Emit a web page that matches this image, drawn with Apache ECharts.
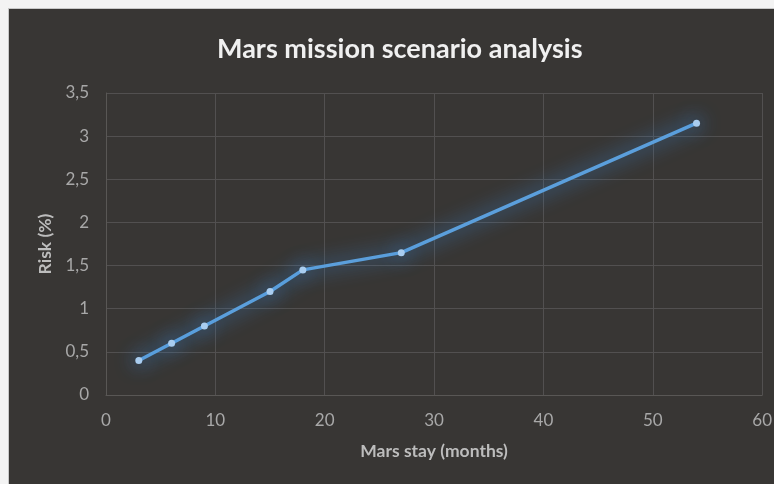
<!DOCTYPE html>
<html>
<head>
<meta charset="utf-8">
<script src="https://cdn.jsdelivr.net/npm/echarts@6/dist/echarts.min.js"></script>
<style>
  html, body { margin: 0; padding: 0; background: #f3f3f3; }
  #frame { position: absolute; left: 8px; top: 8px; width: 766px; height: 476px; border-top: 1px solid #c8c8c8; border-left: 1px solid #c8c8c8; }
  #main { width: 766px; height: 476px; }
</style>
</head>
<body>
<div id="frame"><div id="main"></div></div>
<script>
  // months on Mars vs risk
  var stayMonths = [3, 6, 9, 15, 18, 27, 54];
  var riskPct = [0.4, 0.6, 0.8, 1.2, 1.45, 1.65, 3.15];

  var pts = [];
  for (var i = 0; i < stayMonths.length; i++) {
    pts.push([stayMonths[i], riskPct[i]]);
  }

  var myChart = echarts.init(document.getElementById('main'));
  var font = 'Lato, "Open Sans", sans-serif';
  var option = {
    backgroundColor: '#383634',
    title: {
      text: 'Mars mission scenario analysis',
      left: 203,
      top: 22,
      textStyle: { color: '#f0f0f0', fontSize: 27, fontWeight: 'bold', fontFamily: font }
    },
    grid: { left: 97, right: 12, top: 84, bottom: 90 },
    xAxis: {
      type: 'value',
      min: 0, max: 60, interval: 10,
      name: 'Mars stay (months)',
      nameLocation: 'middle',
      nameGap: 47,
      nameTextStyle: { color: '#bdbdbd', fontSize: 17.5, fontWeight: 'bold', fontFamily: font },
      axisLine: { show: true, lineStyle: { color: '#595755' } },
      axisTick: { show: false },
      axisLabel: { color: '#a8a8a8', fontSize: 17, margin: 17, fontFamily: font },
      splitLine: { show: true, lineStyle: { color: '#525050' } }
    },
    yAxis: {
      type: 'value',
      min: 0, max: 3.5, interval: 0.5,
      name: 'Risk (%)',
      nameLocation: 'middle',
      nameGap: 48,
      nameTextStyle: { color: '#bdbdbd', fontSize: 17.5, fontWeight: 'bold', fontFamily: font },
      axisLine: { show: true, lineStyle: { color: '#595755' } },
      axisTick: { show: false },
      axisLabel: {
        color: '#a8a8a8', fontSize: 17, margin: 17, fontFamily: font,
        formatter: function (v) { return String(v).replace('.', ','); }
      },
      splitLine: { show: true, lineStyle: { color: '#525050' } }
    },
    series: [{
      type: 'line',
      data: pts,
      symbol: 'circle',
      symbolSize: 7,
      lineStyle: {
        color: '#5b9fdc', width: 3.5,
        shadowColor: 'rgba(60,150,240,1)', shadowBlur: 20
      },
      itemStyle: {
        color: '#a9cdf0',
        borderWidth: 0,
        shadowColor: 'rgba(60,150,240,1)', shadowBlur: 20
      },
      animation: false
    }]
  };
  myChart.setOption(option);
</script>
</body>
</html>
